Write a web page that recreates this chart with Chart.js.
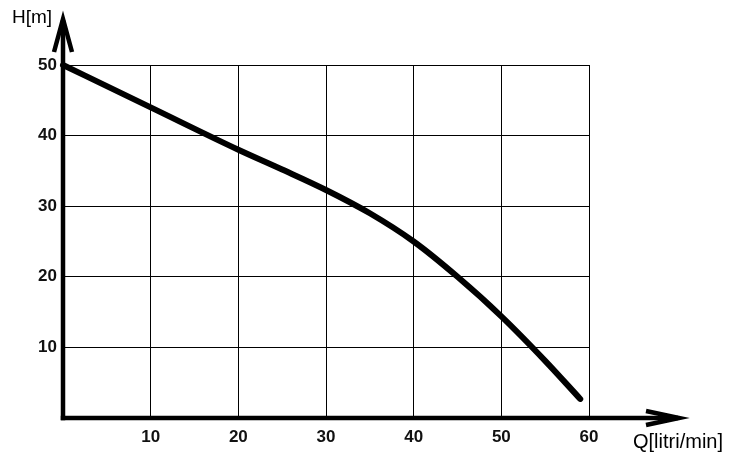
<!DOCTYPE html>
<html>
<head>
<meta charset="utf-8">
<script src="https://cdn.jsdelivr.net/npm/chart.js@4/dist/chart.umd.min.js"></script>
<style>
  html, body { margin: 0; padding: 0; background: #fff; }
  #wrap { width: 738px; height: 462px; }
</style>
</head>
<body>
<div id="wrap"><canvas id="pump"></canvas></div>
<script>
// Pump curve: head H [m] vs flow Q [litri/min]
const flowQ = [0, 10, 20, 25, 30, 35, 40, 45, 50, 55, 59];
const headH = [50, 44, 38, 35.2, 32.3, 29, 25, 20, 14.4, 8.1, 2.7];
const xTicks = [0, 10, 20, 30, 40, 50, 60];
const yTicks = [0, 10, 20, 30, 40, 50];

const points = flowQ.map((q, i) => ({ x: q, y: headH[i] }));

const tickFont = { family: "'Liberation Sans', Arial, sans-serif", size: 17, weight: 'bold' };

// thick axes with open arrowheads + axis titles
const axesPlugin = {
  id: 'axesArrows',
  afterDatasetsDraw(chart) {
    const { ctx, chartArea } = chart;
    const x0 = chartArea.left;
    const y0 = chartArea.bottom;
    ctx.save();
    ctx.strokeStyle = '#000';
    ctx.lineWidth = 4.5;
    ctx.lineCap = 'butt';
    ctx.lineJoin = 'miter';

    // y axis
    ctx.beginPath();
    ctx.moveTo(x0, y0 + 2.25);
    ctx.lineTo(x0, 20);
    ctx.stroke();
    ctx.beginPath();
    ctx.moveTo(x0 - 9, 52);
    ctx.lineTo(x0, 19);
    ctx.lineTo(x0 + 9, 52);
    ctx.stroke();

    // x axis
    ctx.beginPath();
    ctx.moveTo(x0 - 2.25, y0);
    ctx.lineTo(678, y0);
    ctx.stroke();
    ctx.beginPath();
    ctx.moveTo(646, y0 - 7);
    ctx.lineTo(679, y0);
    ctx.lineTo(646, y0 + 7);
    ctx.stroke();

    ctx.fillStyle = '#000';
    ctx.textAlign = 'left';
    ctx.textBaseline = 'alphabetic';
    ctx.font = "19px 'Liberation Sans', Arial, sans-serif";
    ctx.fillText('H[m]', 12, 23);
    ctx.font = "20px 'Liberation Sans', Arial, sans-serif";
    ctx.fillText('Q[litri/min]', 633, 448);
    ctx.restore();
  }
};

new Chart(document.getElementById('pump'), {
  type: 'scatter',
  data: {
    datasets: [{
      data: points,
      showLine: true,
      borderColor: '#000',
      borderWidth: 6,
      borderCapStyle: 'round',
      borderJoinStyle: 'round',
      pointRadius: 0,
      cubicInterpolationMode: 'monotone',
      clip: false,
    }],
  },
  options: {
    responsive: true,
    maintainAspectRatio: false,
    animation: false,
    layout: { padding: { top: 65, right: 149, left: 0, bottom: 0 } },
    plugins: { legend: { display: false }, tooltip: { enabled: false } },
    scales: {
      x: {
        type: 'linear',
        min: 0,
        max: 60,
        afterBuildTicks: (s) => { s.ticks = xTicks.map(v => ({ value: v })); },
        afterFit: (s) => { s.height = 44; },
        border: { display: false },
        grid: { color: '#000', lineWidth: 1, drawTicks: false },
        ticks: {
          color: '#111',
          font: tickFont,
          padding: 9,
          maxRotation: 0,
          callback: (v) => (v === 0 ? '' : v),
        },
      },
      y: {
        type: 'linear',
        min: 0,
        max: 50,
        afterBuildTicks: (s) => { s.ticks = yTicks.map(v => ({ value: v })); },
        afterFit: (s) => { s.width = 63; },
        border: { display: false },
        grid: { color: '#000', lineWidth: 1, drawTicks: false },
        ticks: {
          color: '#111',
          font: tickFont,
          padding: 6,
          callback: (v) => (v === 0 ? '' : v),
        },
      },
    },
  },
  plugins: [axesPlugin],
});
</script>
</body>
</html>
